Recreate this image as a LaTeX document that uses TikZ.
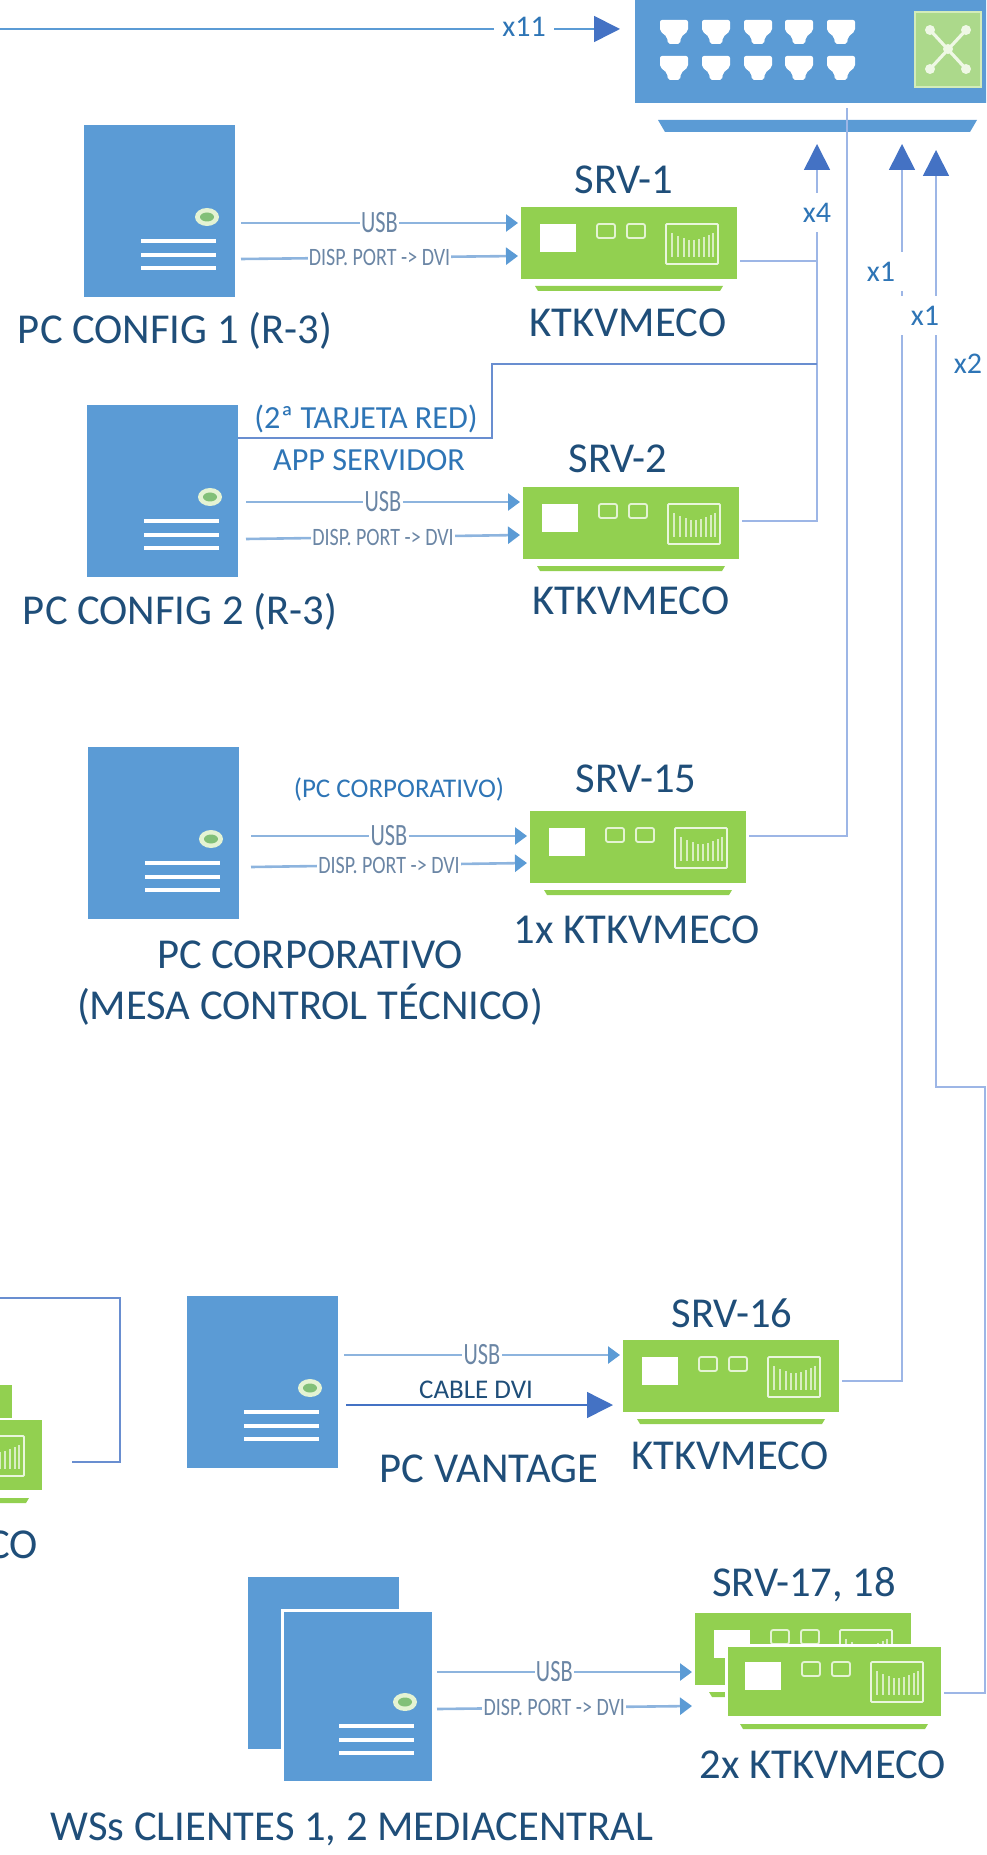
\documentclass[tikz,border=0pt]{standalone}
\usepackage{fontspec}
\setmainfont{Carlito}
\usepackage{graphicx}
\usetikzlibrary{positioning,arrows.meta}

\definecolor{pcblue}{HTML}{5B9BD5}
\definecolor{kvmgreen}{HTML}{92D050}
\definecolor{titleblue}{HTML}{1F4E79}
\definecolor{tagblue}{HTML}{2E75B6}
\definecolor{headblue}{HTML}{4472C4}
\definecolor{netblue}{HTML}{9DB6E6}
\definecolor{cableblue}{HTML}{8DB4DE}
\definecolor{cablegray}{HTML}{6B86A5}

\tikzset{
  towerbody/.style={fill=pcblue, anchor=north west, inner sep=0pt, outer sep=0pt, minimum width=75.5pt, minimum height=86pt},
  kvmbody/.style={fill=kvmgreen, anchor=north west, inner sep=0pt, outer sep=0pt, minimum width=108pt, minimum height=36pt},
  title/.style={text=titleblue, inner sep=0pt, font=\fontsize{21.3}{25.5}\selectfont},
  note/.style={text=tagblue, inner sep=0pt, font=\fontsize{16.1}{18}\selectfont},
  xtag/.style={text=tagblue, fill=white, inner sep=0pt, minimum width=25pt, minimum height=19.5pt, font=\fontsize{15}{17}\selectfont},
  cabletag/.style={text=cablegray, fill=white, inner sep=0.6pt, font=\fontsize{#1}{16}\selectfont},
  usbcable/.style={draw=cableblue, line width=1.3pt, -{Triangle[length=6pt,width=8.5pt,color=pcblue]}},
  netline/.style={draw=netblue, line width=0.8pt},
  uptip/.style={-{Triangle[length=13pt,width=13pt,color=headblue]}},
}

% name, x, y of the top left corner
\newcommand{\pcbox}[4][]{%
  \node[towerbody,#1] (#2) at (#3,#4) {};
  \begin{scope}[shift={(#3,#4)}]
    \fill[white!75!kvmgreen] (123,92) ellipse (12 and 9);
    \fill[kvmgreen!70!pcblue] (123,92) ellipse (7 and 4.5);
    \foreach \liney in {116,130,143}
      \draw[white, line width=1.8pt] (57,\liney) -- (132,\liney);
  \end{scope}}

\newcommand{\kvmbox}[4][]{%
  \node[kvmbody,#1] (#2) at (#3,#4) {};
  \begin{scope}[shift={(#3,#4)}]
    \fill[white] (19,17) rectangle (55,45);
    \foreach \sqx in {76,106}
      \draw[white!75!kvmgreen, line width=0.9pt, rounded corners=1pt] (\sqx,17) rectangle (\sqx+18,31);
    \draw[white!80!kvmgreen, line width=0.9pt, rounded corners=0.5pt] (145,17) rectangle (197,57);
    \foreach \barx/\bary in {151/26,157/29,163/31,168/33,173/33,178/32,183/30,188/28,192/26}
      \draw[white!65!kvmgreen, line width=0.9pt] (\barx,\bary) -- (\barx,50);
    \fill[kvmgreen] (14,79) -- (202,79) -- (199,84) -- (17,84) -- cycle;
  \end{scope}}

% pc, kvm, gap at the pc, usb y, dvi y at the pc, dvi y at the kvm
\newcommand{\kvmcables}[7][.5]{%
  \draw[usbcable] ([xshift=#4pt]#2.east |- 0,#5) -- node[cabletag=15.5,pos=#1] (#2usb) {\scalebox{.72}[1]{USB}} ([xshift=-1.5pt]#3.west |- 0,#5);
  \draw[usbcable] ([xshift=#4pt]#2.east |- 0,#6) -- node[cabletag=12.5,pos=#1] (#2dvi) {\scalebox{.8}[1]{DISP. PORT -> DVI}} ([xshift=-1.5pt]#3.west |- 0,#7);}

\begin{document}
\begin{tikzpicture}[x=0.5pt,y=-0.5pt]
  \clip (0,0) rectangle (986,1855);

  % Switch
  \node[fill=pcblue, anchor=south west, inner sep=0pt, outer sep=0pt, minimum width=190pt, minimum height=70pt] (sw) at (635,103) {};
  \foreach \portx in {674,716,758,799,841}
    \foreach \porty in {32,68}
      \fill[white, rounded corners=1pt, shift={(\portx,\porty)}] (-14,-12) -- (14,-12) -- (14,-1) -- (7,5) -- (6,12) -- (-6,12) -- (-7,5) -- (-14,-1) -- cycle;
  \draw[fill=kvmgreen!70!white!92!pcblue, draw=white!60!kvmgreen, line width=1.2pt] (915,12) rectangle (981,87);
  \draw[white!85!kvmgreen, line width=1.6pt] (930,30) -- (966,69) (966,30) -- (930,69);
  \foreach \dotx/\doty in {930/30,966/30,930/69,966/69,948/49}
    \fill[white!85!kvmgreen] (\dotx,\doty) circle (5);
  \fill[pcblue] (658,120) -- (977,120) -- (970,132) -- (665,132) -- cycle;

  % Servers
  \pcbox{pc1}{84}{125}
  \kvmbox{srv1}{521}{207}
  \pcbox{pc2}{87}{405}
  \kvmbox{srv2}{523}{487}
  \pcbox{pc15}{88}{747}
  \kvmbox{srv15}{530}{811}
  \kvmbox{srv13b}{-204}{1385}
  \kvmbox[draw=white,line width=1pt]{srv13}{-173}{1419}
  \pcbox{pc16}{187}{1296}
  \kvmbox{srv16}{623}{1340}
  \pcbox{ws1}{248}{1577}
  \pcbox[draw=white,line width=1.5pt]{ws2}{282}{1610}
  \kvmbox{srv17}{695}{1613}
  \kvmbox[draw=white,line width=1.5pt]{srv18}{726}{1645}

  % Cables
  \kvmcables{pc1}{srv1}{3}{223}{259}{256}
  \kvmcables{pc2}{srv2}{4}{502}{539}{535}
  \kvmcables{pc15}{srv15}{6}{836}{867}{863}
  \kvmcables[.46]{ws2}{srv17}{2}{1672}{1709}{1706}
  \draw[usbcable] ([xshift=3pt]pc16.east |- 0,1355) -- node[cabletag=15.5] (pc16usb) {\scalebox{.72}[1]{USB}} ([xshift=-1.5pt]srv16.west |- 0,1355);
  \draw[draw=headblue, line width=0.7pt, -{Triangle[length=13pt,width=13pt,color=headblue]}] ([xshift=4pt]pc16.east |- 0,1405) -- ([xshift=-5pt]srv16.west |- 0,1405);

  % Network lines
  \coordinate (x11start) at (0,29);
  \coordinate (x11tip) at (620,29);
  \draw[draw=pcblue, line width=0.8pt, -{Triangle[length=13pt,width=13pt,color=headblue]}] (x11start) -- (x11tip);
  \node[xtag, minimum width=30pt] (x11tag) at (524,27) {x11};

  \coordinate (x4tip) at (817,144);
  \coordinate (x4join) at (817,261);
  \coordinate (x4bus) at (817,364);
  \coordinate (x4base) at (817,521);
  \coordinate (riser) at (492,438);
  \draw[netline] ([xshift=1.5pt]srv1.east |- x4join) -- (x4join);
  \draw[netline, uptip] ([xshift=1.5pt]srv2.east |- x4base) -- (x4base) -- (x4tip);
  \draw[netline, draw=headblue!80] (pc2.east |- riser) -- (riser) -- (riser |- x4bus) -- (x4bus);

  \coordinate (bus15) at (847,836);
  \draw[netline] ([yshift=-2.5pt]sw.south -| bus15) -- (bus15) -- ([xshift=1.5pt]srv15.east |- bus15);

  \coordinate (v16tip) at (902,144);
  \coordinate (v16base) at (902,1381);
  \draw[netline, uptip] ([xshift=1.5pt]srv16.east |- v16base) -- (v16base) -- (v16tip);

  \coordinate (wstip) at (936,150);
  \coordinate (wsup) at (936,1087);
  \coordinate (wsright) at (985,1087);
  \coordinate (wsbase) at (985,1693);
  \draw[netline, uptip] ([xshift=1pt]srv18.east |- wsbase) -- (wsbase) -- (wsright) -- (wsup) -- (wstip);

  \coordinate (leftstart) at (0,1298);
  \coordinate (leftcorner) at (120,1298);
  \coordinate (leftbase) at (120,1462);
  \coordinate (leftend) at (72,1462);
  \draw[netline, draw=headblue!80] (leftstart) -- (leftcorner) -- (leftbase) -- (leftend);

  \node[xtag] (x4tag) at (817,213) {x4};
  \node[xtag] (x1tag) at (881,272) {x1};
  \node[xtag] (x1btag) at (925,316) {x1};
  \node[xtag, fill=none] (x2tag) at (968,364) {x2};

  % Labels
  \node[title] (srv1name) at (624,180) {SRV-1};
  \node[title] (srv1kind) at (628,323) {KTKVMECO};
  \node[title] (pc1name) at (175,331) {PC CONFIG 1 (R-3)};
  \node[title] (srv2name) at (618,459) {SRV-2};
  \node[title] (srv2kind) at (631,601) {KTKVMECO};
  \node[title] (pc2name) at (180,612) {PC CONFIG 2 (R-3)};
  \node[note] (cardtag) at (366,419) {(2ª TARJETA RED)};
  \node[note] (apptag) at (369,460) {APP SERVIDOR};
  \node[title] (srv15name) at (636,779) {SRV-15};
  \node[title] (srv15kind) at (637,930) {1x KTKVMECO};
  \node[note, font=\fontsize{13.5}{16}\selectfont] (corptag) at (399,789) {(PC CORPORATIVO)};
  \node[title, align=center] (pc15name) at (310,983) {PC CORPORATIVO\\(MESA CONTROL TÉCNICO)};
  \node[title, anchor=east] (srv13kind) at (38,1545) {CO};
  \node[title] (srv16name) at (732,1313) {SRV-16};
  \node[title] (srv16kind) at (730,1456) {KTKVMECO};
  \node[title] (pc16name) at (489,1469) {PC VANTAGE};
  \node[title, font=\fontsize{13.5}{16}\selectfont] (dvitag) at (476,1390) {CABLE DVI};
  \node[title] (srv17name) at (804,1585) {SRV-17, 18};
  \node[title] (srv17kind) at (823,1765) {2x KTKVMECO};
  \node[title] (wsname) at (352,1829) {WSs CLIENTES 1, 2 MEDIACENTRAL};
\end{tikzpicture}
\end{document}
